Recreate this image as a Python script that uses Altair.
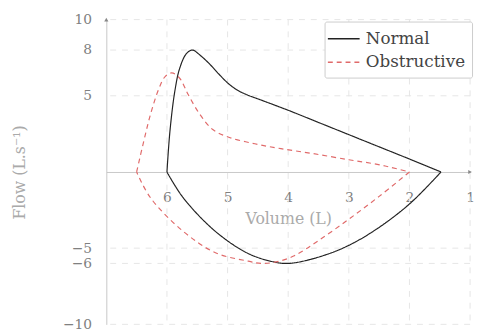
import altair as alt
import pandas as pd

# Normal loop (volume in L, flow in L/s)
normal_up_vol = [6.0, 5.95, 5.87, 5.79, 5.68, 5.58, 5.45, 5.3, 5.15, 5.0, 4.85, 4.7, 4.4, 4.0, 3.5, 3.0, 2.5, 2.0, 1.48]
normal_up_flow = [0.0, 2.7, 5.3, 6.8, 7.76, 8.0, 7.65, 7.1, 6.45, 5.85, 5.4, 5.1, 4.65, 4.05, 3.25, 2.45, 1.65, 0.85, 0.0]
normal_low_vol = [1.48, 2.0, 2.6, 3.1, 3.6, 4.0, 4.24, 4.66, 5.2, 5.73, 6.0]
normal_low_flow = [0.0, -2.1, -3.9, -5.0, -5.7, -6.0, -5.9, -5.35, -3.9, -1.7, 0.0]

# Obstructive loop
obs_up_vol = [6.5, 6.38, 6.27, 6.13, 6.03, 5.92, 5.79, 5.65, 5.46, 5.25, 4.98, 4.55, 4.12, 3.58, 3.0, 2.6, 2.3, 2.0]
obs_up_flow = [0.0, 2.06, 3.8, 5.5, 6.26, 6.5, 6.15, 5.08, 3.8, 2.8, 2.28, 1.85, 1.53, 1.2, 0.8, 0.55, 0.3, 0.0]
obs_low_vol = [2.0, 2.5, 3.0, 3.5, 3.9, 4.2, 4.45, 4.66, 5.2, 5.73, 6.27, 6.5]
obs_low_flow = [0.0, -1.6, -3.1, -4.5, -5.5, -5.9, -6.0, -5.85, -5.3, -3.9, -1.7, 0.0]

series_names = ["Normal", "Obstructive"]
x_ticks = [6, 5, 4, 3, 2, 1]
y_ticks = [10, 8, 5, -5, -6, -10]

rows = []
for name, seg, vols, flows in [
    ("Normal", "n_up", normal_up_vol, normal_up_flow),
    ("Normal", "n_low", normal_low_vol, normal_low_flow),
    ("Obstructive", "o_up", obs_up_vol, obs_up_flow),
    ("Obstructive", "o_low", obs_low_vol, obs_low_flow),
]:
    for i, (v, f) in enumerate(zip(vols, flows)):
        rows.append({"series": name, "segment": seg, "order": i, "vol": v, "flow": f})
df = pd.DataFrame(rows)

FONT = "DejaVu Serif"
xscale = alt.Scale(domain=[7, 1], nice=False, zero=False)
yscale = alt.Scale(domain=[-10, 10], nice=False, zero=False)

xaxis = alt.Axis(values=x_ticks, offset=-155, grid=False, tickSize=0,
                 labelPadding=19, title="Volume (L)", titlePadding=6,
                 domainColor="#c8c8c8", labelColor="#808080", titleColor="#aaa",
                 labelFont=FONT, titleFont=FONT, labelFontSize=14,
                 titleFontSize=16, titleFontWeight="normal", labelFlush=False)
yaxis = alt.Axis(values=y_ticks, grid=False, tickSize=0, labelPadding=15,
                 title="Flow (L.s⁻¹)", titlePadding=36,
                 domainColor="#c8c8c8", labelColor="#808080", titleColor="#aaa",
                 labelFont=FONT, titleFont=FONT, labelFontSize=14,
                 titleFontSize=16, titleFontWeight="normal", labelFlush=False)

grid_x = alt.Chart(pd.DataFrame({"vol": x_ticks})).mark_rule(
    color="#e6e6e6", strokeWidth=1, strokeDash=[6, 6]
).encode(x=alt.X("vol:Q", scale=xscale, axis=xaxis))

grid_y = alt.Chart(pd.DataFrame({"flow": y_ticks})).mark_rule(
    color="#e6e6e6", strokeWidth=1, strokeDash=[6, 6]
).encode(y=alt.Y("flow:Q", scale=yscale, axis=yaxis))

lines = alt.Chart(df).mark_line(interpolate="catmull-rom", strokeWidth=1.2).encode(
    x=alt.X("vol:Q", scale=xscale, axis=xaxis),
    y=alt.Y("flow:Q", scale=yscale, axis=yaxis),
    color=alt.Color("series:N", scale=alt.Scale(domain=series_names, range=["#222222", "#e06a6a"]),
                    legend=alt.Legend(title=None)),
    strokeDash=alt.StrokeDash("series:N", scale=alt.Scale(domain=series_names, range=[[1, 0], [5, 4]]),
                              legend=alt.Legend(title=None)),
    detail="segment:N",
    order="order:Q",
)

arrow_x = alt.Chart(pd.DataFrame({"vol": [1.0], "flow": [0.0]})).mark_point(
    shape="triangle-right", filled=True, size=18, color="#888", opacity=1).encode(
    x=alt.X("vol:Q", scale=xscale, axis=xaxis), y=alt.Y("flow:Q", scale=yscale, axis=yaxis))
arrow_y = alt.Chart(pd.DataFrame({"vol": [7.0], "flow": [10.0]})).mark_point(
    shape="triangle-up", filled=True, size=18, color="#888", opacity=1).encode(
    x=alt.X("vol:Q", scale=xscale, axis=xaxis), y=alt.Y("flow:Q", scale=yscale, axis=yaxis))

chart = alt.layer(grid_x, grid_y, lines, arrow_x, arrow_y).properties(
    width=370, height=310,
    autosize=alt.AutoSizeParams(type="none"),
    padding={"left": 100, "top": 9, "right": 5, "bottom": 7},
).configure_view(stroke=None).configure_legend(
    orient="none", legendX=222, legendY=2,
    strokeColor="#cccccc", fillColor="white", padding=7,
    symbolType="M-1.7,0H1.7", symbolSize=361, symbolStrokeWidth=1.5,
    symbolOffset=2, labelOffset=12,
    labelFont=FONT, labelFontSize=17, labelColor="#444",
    rowPadding=5, cornerRadius=2,
)

chart.save("out.html", embed_options={"renderer": "svg", "actions": False})
